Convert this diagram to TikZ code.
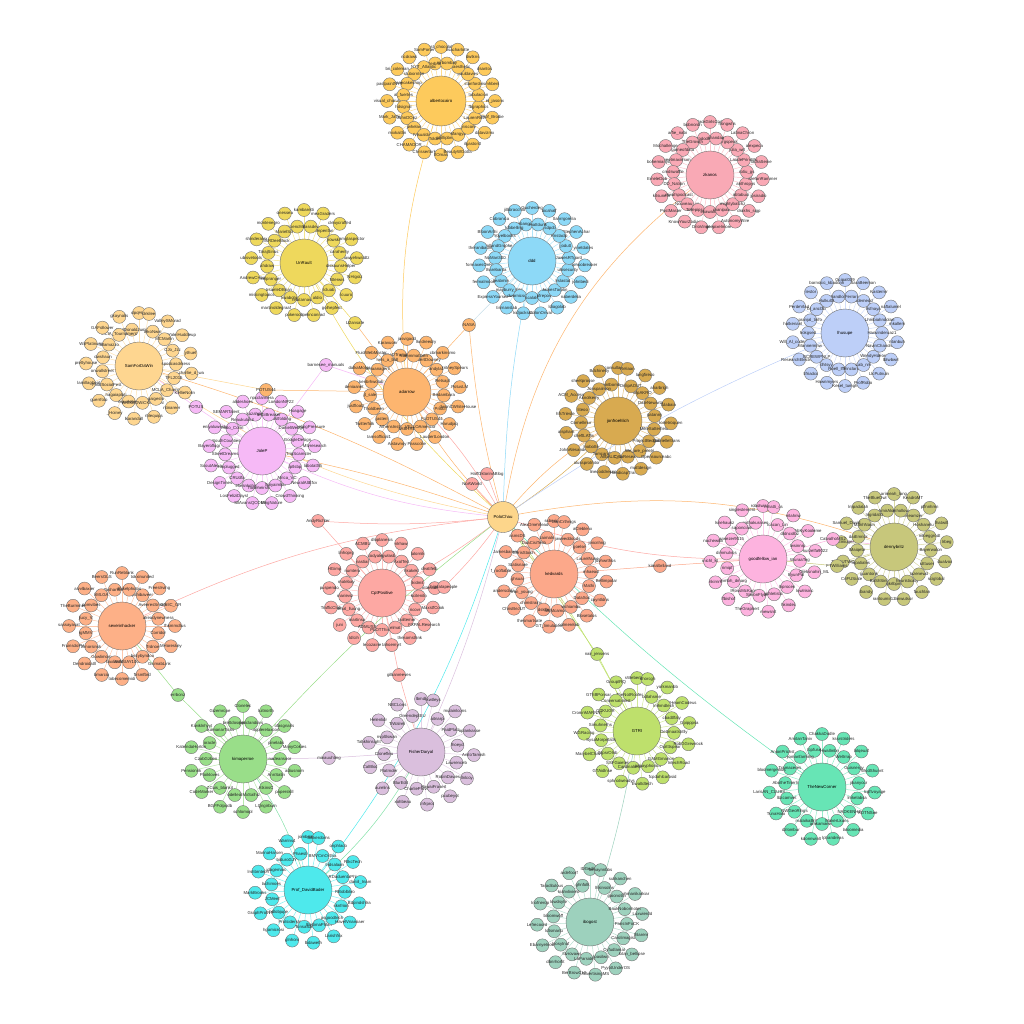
\documentclass[tikz,border=0pt]{standalone}
\usepackage{fontspec}
\setmainfont{Liberation Sans}
\usetikzlibrary{calc}
\newcommand\labfont{\fontsize{4.3}{5}\selectfont}
\definecolor{cAC}{HTML}{FDCA5C}
\definecolor{cZK}{HTML}{F9A9B5}
\definecolor{cUR}{HTML}{EED85C}
\definecolor{cDD}{HTML}{8DD9F7}
\definecolor{cSF}{HTML}{FED690}
\definecolor{cAD}{HTML}{FDB56F}
\definecolor{cJF}{HTML}{D8AA50}
\definecolor{cLH}{HTML}{BDCFF8}
\definecolor{cJP}{HTML}{F6B9F6}
\definecolor{cPC}{HTML}{FDD68B}
\definecolor{cGI}{HTML}{FDB3DF}
\definecolor{cDB}{HTML}{C7C77B}
\definecolor{cCP}{HTML}{FDA8A3}
\definecolor{cKE}{HTML}{FCA88A}
\definecolor{cSH}{HTML}{FDB087}
\definecolor{cGT}{HTML}{BEE06C}
\definecolor{cKM}{HTML}{99DE89}
\definecolor{cFD}{HTML}{DABFDD}
\definecolor{cTN}{HTML}{67E5B5}
\definecolor{cPD}{HTML}{4EE9EC}
\definecolor{cIB}{HTML}{9DD1BD}
\tikzset{
  hub/.style={circle,draw=black!55,line width=0.4pt,inner sep=0pt,font=\labfont},
  sat/.style={circle,draw=black!55,line width=0.4pt,minimum size=13pt,inner sep=0pt},
  satlab/.style={font=\labfont,inner sep=0pt,text=black!85},
  spoke/.style={line width=0.5pt},
  conn/.style={line width=0.5pt},
}
\newif\ifnodepass
\newcommand\clus[6]{%
  \ifnodepass
    \node[hub,fill=#4,minimum size=#3*2pt] (#1) at (#1) {#5};%
    \foreach \lab [count=\i] in {#6}{%
      \node[sat,fill=#4,label={[satlab]center:\lab}] (#1-\i) at (#1-\i) {};%
    }%
  \else
    \coordinate (#1) at #2;%
    \foreach \lab [count=\n] in {#6}{\xdef\clusN{\n}}%
    \foreach \lab [count=\i] in {#6}{%
      \pgfmathsetmacro\ang{90+360*(\i-1)/\clusN}%
      \pgfmathsetmacro\rr{isodd(\i) ? #3+29 : #3+13}%
      \coordinate (#1-\i) at ($(#1)+(\ang:\rr pt)$);%
      \draw[spoke,draw=#4!70] (#1)--(#1-\i);%
    }%
  \fi
}
\newcommand\single[4]{% id, pos, color, label
  \ifnodepass
    \node[sat,fill=#3,label={[satlab]center:#4}] (#1) at (#1) {};%
  \else
    \coordinate (#1) at #2;%
  \fi
}
\newcommand\allnodes{%
\clus{ac}{(441,101)}{25}{cAC}{albertocairo}{nst\_chocolab, twitterbrands, SamPorter, NYT\_Atlantic, ncdraws, stubornton, bri\_coleman, mooncakeshop, pastpaintNYT, al\_fuertes, visual\_chorus, hdsignal, Mark\_Jaffe, JohnDOnz, mixkaitlin, jwhelan, CHAMADOR, fvisualdata, Chrissertork, Toldes, flOmas, phillipbrodi, BeautyWGotta, Mangyb, ilgaston0, \_niscore, datavizmx, LaurenRoth, Prof\_Brodie, fbgraphics, el\_jasonx, tabulacion, mhbeni, stanfordvis, dsantos, pauldavies, dwtkns, infoaesthetic, lisacharlotte, mrbombay}%
\clus{zk}{(710,175)}{24}{cZK}{zkanos}{BlackGirlsCode, tododd, bobnordh, TheGrowth, arfie\_nabi, gameofdata, Mochallenge, tweetmaximum, bohemianyc, cmdswaffle, EmeleDub, DD\_Nation, kitsunets, mwafspodcast, PostMaster, Nouveau\_us, KnowYourZodiac, Tollepipsaud, OrioVinge, ekawalkis, onepixelmore, manipalit, AutonomyWire, mightybatchz, drakhs\_sigp, obtabuci, jpsiradio, anthropys, StefanRamrner, rotiu\_gs, lauraSeine, LaudePrirnWu, alexpeca, julia\_wrt, LatinaChron, dnrgspeak, hongwhs, shandaq}%
\clus{ur}{(304,263)}{24}{cUR}{UnRault}{kambaretti, SciencMdfr, onessea, MarielSci, montenegro, BMsRDeeBlock, shinderalex, TarajSirius, ubisvetools, ahdraw, AndrewCHaw, kelpranger, missingtopics, trsaeleDBrian, martinoldegraaf, kwabohrn, pokeroob, relatarnasko, pelinconrad, aldio, golhepfest, lcluab, lcuuro, fitterwis, NHigoiz, diskaunsHelper, lawyehwaldtz, carahenry, lamglaspector, jrowski, cleaycraffed, lumpenfan, meaGraders, rlassdev}%
\clus{dd}{(532,261)}{24}{cDD}{ddd}{Gucherdeg, bonbangcook, jillibracchio, ldbbelling, Cobranica, Yoyelbooks, BloonArthi, HollandGrophe, theranibaum, NoMan300, formaxesOnly, tharebanta, fermalmoor, ljeabmin, ExpressYourself, mayburry\_bits, tisrnanslab, dwarnicsdata, kidjacksas, scalals, ColonOnval, pfrepos, ldiagolab, JamesTarplin, naberdelia, lrslastat, johnbedi, ukisecurity, lphoobreaker, JawesRTgard, yinetdates, jodutt, StephenAchar, Rnstaclp, tlanrrgorelia, lsdpcb, bicahalf, mattdunk}%
\clus{sf}{(139,366)}{24}{cSF}{SamForDaWin}{dpqHeri, RedDonaldJumit, gkaynalis, MCIA\_Tournament, GAFollower, fullamazzo, WiiPlatinum, dwshaun, prettyhouse, onwallstreet, lamillagbeat, FinalSocialFest, guerrfoto, hagaiaplati, \_Hoiney, eraudebee, lkarandall, WICKEDWiCKEDWIN, rhlequips, gaigeslo, ntinareer, MCLA\_Champz, KellieNolin, TFL2015, charlie\_d\_wa, spodcasdrkess, ythuel, CJo\_Jzz, YaleiHuddleup, MCMarlin, ValleySMorad, tekoNwin, drkilee}%
\clus{ad}{(407,392)}{24}{cAD}{adarrow}{jasvigadd, NNeDTrumpTwits, Karavuonr, nels\_a\_bull, FluidWebMaster, blmaanagent, dalkaMotos, kenbrhwolab, deniaanet, jt\_sale, justfloatz, Tholdbeen, Twitterfolk, jasterr, tamsofficial1, AthensInstitute, Aistavnoy, sABHRE, Passcolie, VELLOAmericor, LaudertLondon, FLOTUS44, Harudjaq, Pnocl, dwonCWhiteHouse, Bedambara, PotusLM, Retsapl, BritneySpears, andyla1, cbmarkinsmo, RobertDowney, lkndreedry, Nammmatthen}%
\clus{jf}{(618,421)}{24}{cJF}{jonfroehlich}{consulta\_data, aintbomb, Bdchinelly, Jonspaiirson, sheetprosse, Aknolkerry, ACM\_Access, liteoo, hfsTrieste, Cornellmur, aisphant, cheftLATis, JohnAlesandro, lnobotte, alussprotmtor, Tamcaroll, linecoddresnor, AlfbALC\_tweet, HandicapTrai, CntaResearch, mattdesign, We\_are\_pmetri, Opensourceabc, ProjectBedthings, gabrielleltrans, MikeSatterfield, lortetroquen, patanny, tulabaia, DateNewarta, aharbrigh, nilpAKRO, langfireco, DrilipAOUT, Reliaan}%
\clus{lh}{(845,333)}{24}{cLH}{lhusupe}{Gcipal009, shandlorid, barnosic\_kbadcnn, Hulkul0l, lestor, bl\_ancl3b, PerdeVlad, pranjal\_tinfo, hatkenanl, hokgsed, Will\_Al\_coder, Mannermnw, ResearchElectrical, GCREWPNLP, tifriadcc, dhtsyy, Hawnmyers, Roell\_Iffee, Kesel\_tumgh, Innclarit, ProfRobo, Lab\_nm, LlcPutnuin, WendyHdeon, lbtwbwrl, NavinChandra, ntanbuh, Hanvinderuaz1, mkallem, Lhmbiahndolan, naftalumel, lrsfnaya, Kasterrnr, lsdemedd, SaraBeeman, Ferrari}%
\clus{jp}{(262,451)}{24}{cJP}{JoleP}{npcclannera, kuzahpia, alideshoes, Reaukulalut, SEMARTalent, malo\_Corin, eniyaluwesk, SouthCounties, Bayeroflugi, StreetDreams, ScoutAlexa, runplugged, DesignTimes, CRUdfa, LosFeliziDaysl, ekesnkohiess, SilAvansQCOMBA, hoveheirshred, EingNature, Spiyaimlpu, CrowdThinking, Africa\_VC, NeuralAltEfcv, lptlsbp, lobotatS5, TripScamster, Mtvresearch, GoogleDesign, FeelingPressure, DanielWedge, Hoagage, lastfolding, LondonNP22, InCiiBreaker}%
\clus{gi}{(763,559)}{24}{cGI}{goodfellow\_ian}{robotwisdom, nathakurasen, singlestemerit, saponciaic, lsnehaukz, arwezer9015, nachewikli, dimmulvos, michl\_kt, rimipf, nkirnnl, mmbh\_dmarg, lfbishof, lRossMcKappe, TheGraphert, SimonFlyberg, mewsnit, athletistic, hkindec, lhprocen, lowlrisinc, ByunPal, Oleksnahin\_ML, WuraaTeg, kurzelfa9022, lwsinnrp, AbKyKooleme, dldncolbz, mlahriw, lcacan\_Lin, mhatti\_cs}%
\clus{db}{(894,547)}{24}{cDB}{dennybritz}{arimeah\_lang, AmirAlon, TheBlueOwl, Ingridatrz, lmpadalah, ManhNaon, Samuel\_David, daiEmrick, SwetEmiuger, lMaiqebr, TheKUTWO, topatiales, CriFUSiate, guantonk, lbandy, BaShSingh, rantoumir12, gkrlbpm, lanwutsor, heuristically, fauchlan, lazenewd, sciglobal, ulttuser, dualvox, Bayerwalon, lrbeg, mloeggrodt, thatwill, Hoshanelu, plfnnhmn, lfneamzer, KeadroMT, mhollow}%
\clus{cp}{(382,593)}{24}{cCP}{CptPositive}{dloplanesis, codyale, ACMBU, nastiar, linhoprg, numtera, HGimp, matebay, puspendo, marieviz, TrafficClub, lkhal\_lluong, juni, martinsa, ldlcih, ADMUSST, lecozaine, PLOTThisDi, tahoemyrt, elmat, thesomsthnk, taiiltemer, FXPALResearch, ricovr, MaxstfCook, kcitenitn, InterculComp, ikidmit, deatifelb, hkakekl, lalornik, AxolTed, nlrhaw, gwlasb}%
\clus{ke}{(554,574)}{24}{cKE}{kedvards}{ssbruicksi, zaimaln, AlexDmeVlead, DaaCisiTech, asmsDS, ChrisStoich, Jamesbarwin, Statisnare, f\_rooftable, ghsuai, andersdata, Iran\_young, ChrisBeJUT, chimstrainx, thesmartsate, dskflo, GT\_limulation, MItMcamcute, colmerelab, vishiambu, Blosetalos, DataSoc, cayntldns, Mathi, Bellimpolar, mhaead, jdvhwrthos, LaurelNuke, jmicnhng, goelse, aCleblenx, jaweeddoods, DanCrthnigs}%
\clus{sh}{(122,626)}{24}{cSH}{severinhacker}{RunReblank, TashanSalli, BeersGLS, kMLGA, alvvlbaxier, pomvibes, TheBurmmer, jlucy\_V, sassayasat, rgMMV, FruinsdoPV, Dmorsinsk, Dendroidatll, Gowlimom, bmarciq, baxliorsit, tobecomemidi, AVASIAY100B2, ftrsmfbrd, bezybyndoo, GsimabLink, Trdnoe, MHoreskey, Corridor, fhkmmcllus, alreadynewness, GTrilC\_GR, AveeresSmarx, FreesIrving, pshibaveer, tokxinunited, dbikelphotos}%
\clus{gt}{(637,731)}{24}{cGT}{GTRI}{sWeberLoyd, TheNotRoofer, GroupIRQ, Conversationist, GThBPonsar, GTKUGR, CroninMARNAT, Simuhnerhs, WGRacing, SysaMorpetatls, MarybelChavd, lhtpsrOlnb, GTAidlnse, SSFGaieteria, sphnotweadys, Cardinalmorgan, Ewaltdtech, jumayphonics, fcpdahlcarbsid, GAMGmanon, lntechRoad, Opitttspear, RobGGrewrock, Dettmaatshtlly, Gpipppsa, cbadtlfaly, KHeamCodeus, lmhmdtech, yorkmanbb, bdlahsme, dhorcgh}%
\clus{km}{(243,759)}{24}{cKM}{kimaperroe}{Clonelec, brettdosmpe, Gizemrcpe, IlkamanarTicks, Kiwiklnhyyt, oracle, KatelndaHorton, CzabGzben, Pensionrik, Ptoikloves, CodeMarker, ZCuis\_blankit, BGFFolpodb, odelleal, schlomopl, MxSalhiz, LQngirbum, AtkinsC, paperskill, AnnSatin, adiusnorn, nadeansoor, ManyCokies, pinelabs, ofasgnarls, applerelaxcon, luitnorth, peticlandiars}%
\clus{fd}{(421,752)}{24}{cFD}{FisherDaryal}{lbmdl, GreendeptEU, NBCLons, TiWalreli, Helenlidr, nvpltlswan, Tahkhinsight, Clonefleu, CalBloc, Flatrnder, aurelins, BlurEdit, xohbeau, CharlieProvo, Infrprot, HawaiFrasert, pcubeyot, RobinDavies, llnlcoy, Lawrenceb, AnitoTamish, lhoeyd, oplankasse, PaidPlatz, mulainlcons, aitnarpi, lkwtleys}%
\clus{tn}{(822,787)}{24}{cTN}{TheNewCorner}{ChakkaDodle, tcpfuse, AmitanTaniv, jiomanfarming, AnionPrichst, Tramaceres, bloomergenius, AbotheTinerli, LarisAN\_CLUBS, lbzcamvet, TunaHalo, NWGeoRings, dzlombur, malaikaBritt, kdonnwinlt, amkamaews, lphandreas, MakerLkuns, laloomedia, NADKENHE, KDTNSee, lmkelabsa, lcpftvoyage, jikanyocr, WodShunnt, Guisnergy, lolqeuaf, Weltrrap, kssrstriders, Hwallmbn}%
\clus{pd}{(308,890)}{24}{cPD}{Prof\_DavidBader}{jombsleon, Phaestr, Warrins4, biduroGJY, MannaHarsen, jdagemarc, lrshbrntech, lachimoes, MarkBrooks, JCMeel, GraphProtNT, bdlobjupe, hgamicrosi, ProtsidersIn, glnhoni, Tonsasde, lbdaweth, lbeltimaPhlan, Larishfrix, asgoodtech, HavelVnamiaer, sknfrion, Bdpindshlra, RBoblbliro, daniil\_Inam, RDaduentaPhl, RtkcTech, lndsalaan, onphlaco, BMVCmOrthia, lbhkerdoms}%
\clus{ib}{(590,922)}{24}{cIB}{ibogost}{IDGedityx, ghnfolk, ardefoorf, kiahvliviero, Taraditulous, lowdsyte, lnofnerop, bloomwoff, Lefrecoord, ldtsmarlu, Ebarnyelnow, lnosytnaf, dbnrhorfit, ltlvrovaws, BerBrowCHI, LoParsidelia, AdvertisingMS, loasilwn, PyyotUnderOS, Cyfudlamal, lotan\_bellipse, Carolimagist, lhlarenr, ParisInFoCK, Luxwierdd, BaukNobonhotet, lwhmanikarkiar, gaionotiin, sulikanchen, lhkinsolns, lemaynnbbs}%
\single{nasa}{(469,325)}{cAD}{NASA}%
\single{u2}{(355,323)}{cUR}{U2ansafe}%
\single{barn}{(326,365)}{cJP}{barnesee\_manuals}%
\single{potus44}{(266,390)}{cAD}{POTUS44}%
\single{potus}{(196,407)}{cJP}{POTUS}%
\single{half}{(487,474)}{cCP}{HalfOktorinABlog}%
\single{noa}{(472,484)}{cCP}{NoAWorld}%
\single{andy}{(318,521)}{cCP}{AndyRichter}%
\single{bigd}{(444,587)}{cCP}{bigdatapeople}%
\single{kimal}{(660,566)}{cKE}{kimalbrilaxd}%
\single{catv}{(833,539)}{cGI}{CatvalhoMS2}%
\single{ftw}{(837,566)}{cDB}{FTWilliams}%
\single{nair}{(597,654)}{cGT}{nair\_jensens}%
\single{gill}{(399,675)}{cCP}{gillianreeves}%
\single{mina}{(329,758)}{cFD}{minauuhting}%
\single{errb}{(178,695)}{cKM}{errbonz}%
}
\begin{document}
\begin{tikzpicture}[x=1pt,y=-1pt]
\useasboundingbox (0,0) rectangle (1024,1024);
\nodepassfalse
\allnodes
\coordinate (pc) at (503,517);
\foreach \t/\b/\c in {zk/22/cAD, dd/5/cDD, ur/10/cUR, sf/12/cSF, sf/-6/cAD, ad/8/cAD, ad/-8/cCP, jf/-6/cJF, jf/10/cAD, lh/6/cLH, jp/10/cJP, jp/-4/cAD, gi/-10/cCP, db/15/cAD, cp/5/cCP, ke/0/cKE, sh/-10/cCP, gt/5/cGT, km/-5/cKM, fd/5/cFD, tn/-5/cTN, pd/10/cPD, half/0/cCP, noa/0/cCP, andy/5/cCP, bigd/5/cCP, nair/0/cGT, nasa/5/cAD}
  {\draw[conn,draw=\c] (pc) to[bend left=\b] (\t);}
\draw[conn,draw=cAC] (ac) to[bend left=-12] (ad);
\draw[conn,draw=cIB] (gt) to[bend left=4] (ib);
\draw[conn,draw=cUR] (ur) -- (u2);
\draw[conn,draw=cAD] (u2) -- (ad);
\draw[conn,draw=cDD!80!black!40] (nasa) -- (dd);
\draw[conn,draw=cAD] (nasa) -- (ad);
\draw[conn,draw=cJP] (barn) -- (jp);
\draw[conn,draw=cJP] (barn) -- (ad);
\draw[conn,draw=cAD] (potus44) -- (ad);
\draw[conn,draw=cSF] (potus44) -- (sf);
\draw[conn,draw=cJP] (potus) -- (sf);
\draw[conn,draw=cJP] (potus) -- (jp);
\draw[conn,draw=cCP] (andy) -- (cp);
\draw[conn,draw=cCP] (bigd) -- (cp);
\draw[conn,draw=cKE] (kimal) -- (ke);
\draw[conn,draw=cKE] (kimal) -- (gi);
\draw[conn,draw=cGI] (catv) -- (gi);
\draw[conn,draw=cGI] (catv) -- (db);
\draw[conn,draw=cDB] (ftw) -- (gi);
\draw[conn,draw=cDB] (ftw) -- (db);
\draw[conn,draw=cGT] (nair) -- (gt);
\draw[conn,draw=cCP] (gill) -- (cp);
\draw[conn,draw=cCP] (gill) -- (fd);
\draw[conn,draw=cFD] (mina) -- (km);
\draw[conn,draw=cFD] (mina) -- (fd);
\draw[conn,draw=cKM] (errb) -- (km);
\draw[conn,draw=cKM] (errb) -- (sh);
\draw[conn,draw=cKM!70!cPD] (km) to[bend left=10] (pd);
\draw[conn,draw=cKM!70!cPD] (fd) to[bend left=10] (pd);
\nodepasstrue
\allnodes
\node[hub,fill=cPC,minimum size=31pt] (pc) at (pc) {PoloChau};
\end{tikzpicture}
\end{document}
